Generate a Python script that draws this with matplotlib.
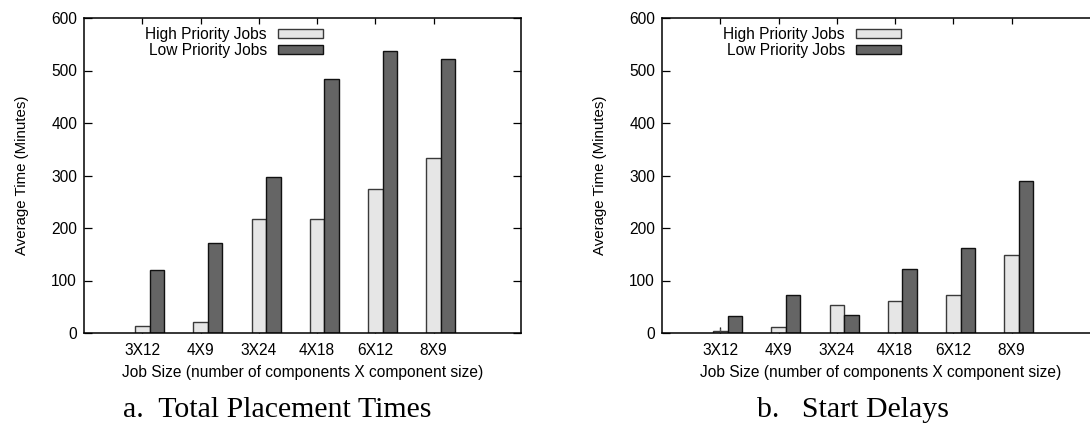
import numpy as np
import matplotlib
matplotlib.use('Agg')
import matplotlib.pyplot as plt

plt.rcParams['font.family'] = ['Liberation Sans', 'DejaVu Sans']

jobs = ['3X12', '4X9', '3X24', '4X18', '6X12', '8X9']

place_high = [13, 21, 218, 217, 274, 333]
place_low = [120, 171, 298, 484, 537, 522]

start_high = [4, 11, 53, 61, 72, 149]
start_low = [33, 72, 34, 122, 161, 290]
start_high_err = [6, 0, 0, 0, 0, 0]

captions = ['a.  Total Placement Times', 'b.   Start Delays']

W, H = 1090, 424
fig = plt.figure(figsize=(W / 100, H / 100), dpi=100)

ax1 = fig.add_axes([84 / W, (H - 333) / H, 437 / W, 315 / H])
ax2 = fig.add_axes([662 / W, (H - 333) / H, 437 / W, 315 / H])

x = np.arange(1, len(jobs) + 1)
bw = 0.25
fs = 11.2


def draw(ax, high, low, err=None, leg_x=0.126):
    ax.set_axisbelow(True)
    ax.bar(x, high, bw, color='#e6e6e6', edgecolor='#3a3a3a', lw=1.0,
           label='High Priority Jobs', zorder=2)
    ax.bar(x + bw, low, bw, color='#656565', edgecolor='#111111', lw=1.0,
           label='Low Priority Jobs', zorder=2)
    if err is not None:
        ax.errorbar(x, high, yerr=[[0] * len(err), err], fmt='none',
                    ecolor='#555555', elinewidth=0.8, capsize=0, zorder=3)
    ax.set_xlim(0, 7.5)
    ax.set_ylim(0, 600)
    ax.set_xticks(x)
    ax.set_xticklabels(jobs, fontsize=fs)
    ax.set_yticks(range(0, 601, 100))
    ax.tick_params(axis='y', labelsize=fs, direction='in', length=6,
                   right=True, pad=5, width=0.9)
    ax.tick_params(axis='x', direction='in', length=4, top=True, pad=7,
                   width=0.9)
    for s in ax.spines.values():
        s.set_linewidth(1.1)
    ax.set_ylabel('Average Time (Minutes)', fontsize=10.8, labelpad=16)
    ax.set_xlabel('Job Size (number of components X component size)',
                  fontsize=fs, labelpad=5)
    leg = ax.legend(loc='upper left', bbox_to_anchor=(leg_x, 0.99),
                    frameon=False, markerfirst=False, fontsize=fs,
                    handlelength=2.9, handleheight=0.5, handletextpad=0.7,
                    labelspacing=0.02, borderaxespad=0)
    return leg


draw(ax1, place_high, place_low)
draw(ax2, start_high, start_low, start_high_err)
ax2.spines['right'].set_visible(False)

fig.text(277 / W, (H - 410) / H, captions[0], fontsize=21.5,
         family='Liberation Serif', ha='center', va='center')
fig.text(853 / W, (H - 410) / H, captions[1], fontsize=21.5,
         family='Liberation Serif', ha='center', va='center')

fig.savefig('out.png', dpi=100)
